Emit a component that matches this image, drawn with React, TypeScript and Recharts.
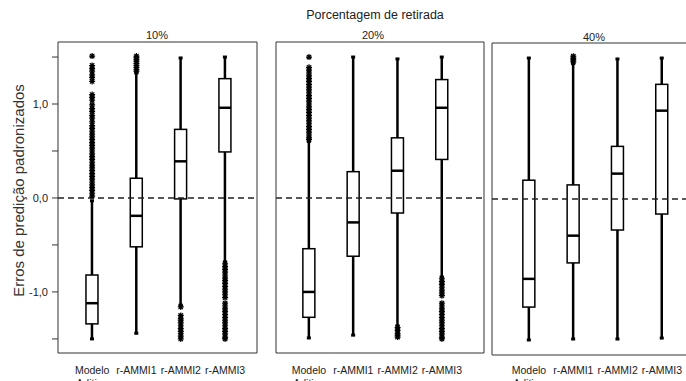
import React from 'react';
import { ComposedChart, Bar, Scatter, XAxis, YAxis, ReferenceLine, ReferenceArea } from 'recharts';

const categories = ['Modelo Aditivo', 'r-AMMI1', 'r-AMMI2', 'r-AMMI3'];
const panelTitles = ['10%', '20%', '40%'];
const yTicks = [-1.5, -1, -0.5, 0, 0.5, 1, 1.5];

// [min, q1, median, q3, max] per category
const box10 = [
  [-1.5, -1.34, -1.12, -0.82, -0.03],
  [-1.44, -0.52, -0.19, 0.21, 1.33],
  [-1.14, -0.01, 0.39, 0.73, 1.49],
  [-0.68, 0.49, 0.96, 1.27, 1.5],
];
const box20 = [
  [-1.49, -1.27, -1.0, -0.54, 0.6],
  [-1.46, -0.62, -0.26, 0.28, 1.5],
  [-1.36, -0.16, 0.29, 0.64, 1.48],
  [-0.84, 0.41, 0.96, 1.26, 1.5],
];
const box40 = [
  [-1.5, -1.15, -0.85, 0.2, 1.5],
  [-1.49, -0.68, -0.39, 0.15, 1.44],
  [-1.49, -0.33, 0.27, 0.56, 1.49],
  [-1.48, -0.16, 0.94, 1.22, 1.5],
];

const out10 = [
  [1.51, 1.41, 1.38, 1.35, 1.31, 1.28, 1.24, 1.1, 1.07, 1.04, 0.99, 0.95, 0.92, 0.88, 0.85, 0.81,
    0.77, 0.74, 0.71, 0.68, 0.65, 0.62, 0.59, 0.56, 0.53, 0.5, 0.47, 0.44, 0.41, 0.38, 0.35,
    0.32, 0.29, 0.26, 0.23, 0.2, 0.17, 0.14, 0.11, 0.08, 0.05, 0.02],
  [1.35, 1.37, 1.39, 1.41, 1.43, 1.45, 1.47, 1.49, 1.51],
  [-1.16, -1.25, -1.28, -1.3, -1.33, -1.36, -1.39, -1.42, -1.44, -1.47, -1.5],
  [-0.7, -0.73, -0.76, -0.79, -0.82, -0.85, -0.88, -0.91, -0.94, -0.97, -1.0, -1.03, -1.06,
    -1.12, -1.15, -1.18, -1.21, -1.24, -1.27, -1.3, -1.33, -1.36, -1.39, -1.42, -1.45, -1.48, -1.5],
];
const out20 = [
  [1.5, 1.39, 1.36, 1.33, 1.3, 1.27, 1.24, 1.21, 1.18, 1.15, 1.12, 1.09, 1.06, 1.03, 1.0, 0.97,
    0.94, 0.91, 0.88, 0.85, 0.82, 0.79, 0.76, 0.73, 0.7, 0.67, 0.64, 0.62],
  [],
  [-1.38, -1.41, -1.44, -1.46, -1.48],
  [-0.86, -0.89, -0.92, -0.95, -0.98, -1.01, -1.04, -1.12, -1.15, -1.18, -1.21, -1.24, -1.27,
    -1.3, -1.33, -1.36, -1.39, -1.42, -1.45, -1.48, -1.5],
];
const out40 = [[], [1.46, 1.48, 1.5, 1.52], [], []];

const FONT = '"Liberation Sans", Arial, sans-serif';

const Whisker = (props: any) => {
  const { x, y, width, height } = props;
  const cx = x + width / 2;
  return (
    <g>
      <line x1={cx} x2={cx} y1={y} y2={y + height} stroke="#000" strokeWidth={2.5} />
      <rect x={cx - 2} y={y - 1.5} width={4} height={3} fill="#000" />
      <rect x={cx - 2} y={y + height - 1.5} width={4} height={3} fill="#000" />
    </g>
  );
};

const Box = (props: any) => {
  const { x, y, width, height } = props;
  return <rect x={x} y={y} width={width} height={height} fill="#fff" stroke="#000" strokeWidth={1.5} />;
};

const Median = (props: any) => {
  const { cx, cy } = props;
  return <line x1={cx - 6} x2={cx + 6} y1={cy} y2={cy} stroke="#000" strokeWidth={2.5} />;
};

const Star = (props: any) => {
  const { cx, cy } = props;
  const d = `M${cx - 3},${cy}h6M${cx},${cy - 3}v6M${cx - 2.2},${cy - 2.2}l4.4,4.4M${cx - 2.2},${cy + 2.2}l4.4,-4.4`;
  return <path d={d} stroke="#000" strokeWidth={1.2} fill="none" />;
};

const CatTick = (props: any) => {
  const { x, payload, baseline } = props;
  const lines = categories[payload.value - 1].split(' ');
  return (
    <text x={x} y={baseline} textAnchor="middle" fontSize={10.5} fill="#222" fontFamily={FONT}>
      {lines.map((l, i) => (
        <tspan key={i} x={x} dy={i === 0 ? 0 : 13}>{l}</tspan>
      ))}
    </text>
  );
};

const YLabel = (props: any) => {
  const { viewBox } = props;
  const cx = viewBox.x + 18;
  const cy = viewBox.y + viewBox.height / 2 - 7;
  return (
    <text x={cx} y={cy} transform={`rotate(-90 ${cx} ${cy})`} textAnchor="middle" dominantBaseline="central"
      fontSize={15} fill="#333" fontFamily={FONT}>
      Erros de predição padronizados
    </text>
  );
};

const fmtY = (v: number) => (Math.abs(v - Math.round(v)) < 1e-6 ? v.toFixed(1).replace('.', ',') : '');

interface PanelProps {
  stats: number[][];
  outliers: number[][];
  left: number;
  width: number;
  top: number;
  bottom: number;
  xDomain: [number, number];
  yDomain: [number, number];
  showY: boolean;
}

const Panel: React.FC<PanelProps> = ({ stats, outliers, left, width, top, bottom, xDomain, yDomain, showY }) => {
  const rows = stats.map((s, i) => ({ x: i + 1, whisker: [s[0], s[4]], box: [s[1], s[3]], median: s[2] }));
  const outRows = outliers.flatMap((vals, i) => vals.map((v) => ({ x: i + 1, y: v })));
  return (
    <div style={{ position: 'absolute', left, top: 0 }}>
      <ComposedChart width={width} height={381} data={rows}
        margin={{ top, right: 5, bottom: 0, left: showY ? 0 : 5 }}>
        <XAxis xAxisId="main" type="number" dataKey="x" domain={xDomain} ticks={[1, 2, 3, 4]} interval={0}
          allowDataOverflow axisLine={false} tickSize={5} tickLine={{ stroke: '#333' }}
          height={381 - bottom} tick={<CatTick baseline={374} />} />
        <XAxis xAxisId="box" type="number" dataKey="x" domain={xDomain} allowDataOverflow hide />
        <XAxis xAxisId="med" type="number" dataKey="x" domain={xDomain} allowDataOverflow hide />
        <XAxis xAxisId="out" type="number" dataKey="x" domain={xDomain} allowDataOverflow hide />
        <YAxis type="number" domain={yDomain} ticks={yTicks} interval={0} allowDataOverflow hide={!showY}
          width={58} axisLine={false} tickSize={6} tickMargin={4} tickLine={{ stroke: '#333' }}
          tickFormatter={fmtY} tick={{ fontSize: 11, fill: '#222', fontFamily: FONT }}
          label={<YLabel />} />
        <ReferenceArea xAxisId="main" x1={xDomain[0]} x2={xDomain[1]} y1={yDomain[0]} y2={yDomain[1]}
          fill="none" fillOpacity={0} stroke="#333" strokeWidth={1} ifOverflow="visible" />
        <Bar xAxisId="main" dataKey="whisker" barSize={12} shape={<Whisker />} isAnimationActive={false} />
        <Bar xAxisId="box" dataKey="box" barSize={12} shape={<Box />} isAnimationActive={false} />
        <Scatter xAxisId="med" dataKey="median" shape={<Median />} isAnimationActive={false} />
        <Scatter xAxisId="out" data={outRows} dataKey="y" shape={<Star />} isAnimationActive={false} />
        <ReferenceLine xAxisId="main" y={0} stroke="#222" strokeWidth={1.5} strokeDasharray="6 4" />
      </ComposedChart>
    </div>
  );
};

const textStyle: React.CSSProperties = {
  position: 'absolute',
  fontFamily: FONT,
  color: '#222',
  whiteSpace: 'nowrap',
  transform: 'translate(-50%, -50%)',
  lineHeight: 1,
};

export default function App() {
  return (
    <div style={{ position: 'absolute', left: 0, top: 0, width: 686, height: 381, overflow: 'hidden', background: '#fff' }}>
      <Panel stats={box10} outliers={out10} left={0} width={262} top={42} bottom={353}
        xDomain={[0.23, 4.72]} yDomain={[-1.65, 1.66]} showY />
      <Panel stats={box20} outliers={out20} left={271} width={218} top={42} bottom={353}
        xDomain={[0.255, 4.95]} yDomain={[-1.65, 1.66]} showY={false} />
      <Panel stats={box40} outliers={out40} left={487} width={218} top={43} bottom={355}
        xDomain={[0.165, 4.86]} yDomain={[-1.66, 1.66]} showY={false} />
      <div style={{ ...textStyle, left: 375, top: 15, fontSize: 12.5 }}>Porcentagem de retirada</div>
      <div style={{ ...textStyle, left: 157, top: 35, fontSize: 11 }}>{panelTitles[0]}</div>
      <div style={{ ...textStyle, left: 373, top: 35, fontSize: 11 }}>{panelTitles[1]}</div>
      <div style={{ ...textStyle, left: 594, top: 37, fontSize: 11 }}>{panelTitles[2]}</div>
    </div>
  );
}
